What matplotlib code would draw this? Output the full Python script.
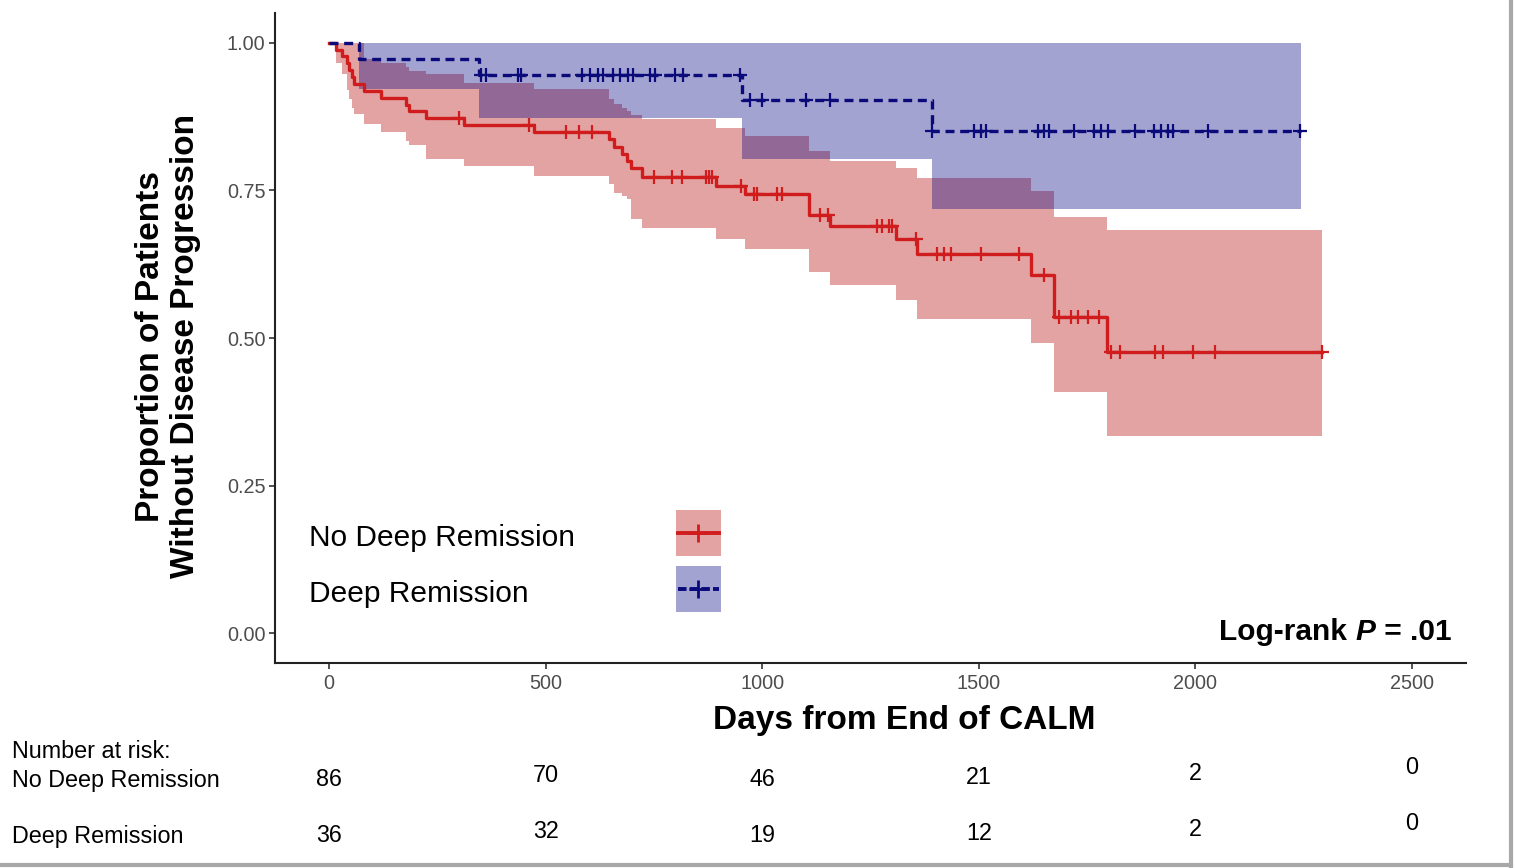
import matplotlib
matplotlib.use('Agg')
import matplotlib.pyplot as plt
import numpy as np
from matplotlib.patches import Rectangle
from matplotlib.lines import Line2D

plt.rcParams['font.family'] = ['Liberation Sans', 'DejaVu Sans']

# Kaplan-Meier estimates
# No Deep Remission
red_times = [0, 15, 30, 42, 47, 52, 57, 80, 119, 177, 185, 223, 312, 473, 647, 658, 677,
             688, 697, 723, 893, 960, 1107, 1157, 1308, 1358, 1620, 1673, 1796]
red_surv = [1.0, 0.988, 0.977, 0.965, 0.953, 0.942, 0.930, 0.918, 0.907, 0.895, 0.884, 0.872,
            0.860, 0.848, 0.836, 0.824, 0.812, 0.800, 0.788, 0.772, 0.758, 0.743, 0.709,
            0.690, 0.667, 0.642, 0.607, 0.536, 0.477]
red_upper = [1.0, 1.0, 1.0, 1.0, 1.0, 1.0, 1.0, 0.972, 0.965, 0.958, 0.952, 0.946, 0.932,
             0.921, 0.905, 0.896, 0.890, 0.884, 0.878, 0.870, 0.856, 0.842, 0.817, 0.800,
             0.787, 0.770, 0.749, 0.705, 0.682]
red_lower = [1.0, 0.966, 0.946, 0.920, 0.905, 0.890, 0.879, 0.862, 0.848, 0.834, 0.826, 0.803,
             0.791, 0.774, 0.760, 0.746, 0.740, 0.735, 0.701, 0.687, 0.667, 0.651, 0.611,
             0.590, 0.565, 0.533, 0.491, 0.408, 0.334]
red_end = 2292
red_censor = [300, 462, 547, 577, 608, 750, 792, 815, 870, 877, 885, 950, 980, 988, 1034, 1045,
              1134, 1153, 1265, 1277, 1292, 1300, 1354, 1404, 1419, 1435, 1505, 1593, 1651,
              1686, 1713, 1728, 1752, 1778, 1806, 1825, 1906, 1925, 1995, 2045, 2292]

# Deep Remission
blue_times = [0, 69, 347, 953, 1393]
blue_surv = [1.0, 0.972, 0.945, 0.903, 0.850]
blue_upper = [1.0, 1.0, 1.0, 1.0, 1.0]
blue_lower = [1.0, 0.921, 0.873, 0.803, 0.718]
blue_end = 2243
blue_censor = [351, 363, 436, 444, 583, 602, 621, 633, 656, 671, 691, 702, 741, 752, 799, 818,
               948, 972, 999, 1100, 1157, 1393, 1489, 1504, 1516, 1636, 1651, 1663, 1720, 1767,
               1782, 1798, 1860, 1905, 1921, 1937, 1948, 2029, 2241]

# number at risk table
risk_days = [0, 500, 1000, 1500, 2000, 2500]
risk_no_deep = [86, 70, 46, 21, 2, 0]
risk_deep = [36, 32, 19, 12, 2, 0]

RED_LINE = '#D01C1C'
RED_FILL = (0.70, 0.0, 0.0)
BLUE_LINE = '#0A0A7A'
BLUE_FILL = (0.0, 0.0, 0.5)
FILL_ALPHA = 0.36
DASH = (2.7, 1.7)

W, H = 1516, 868
fig = plt.figure(figsize=(W / 100, H / 100), dpi=100)


def px(x, y):
    return x / W, 1 - y / H


ax = fig.add_axes([275 / W, 1 - 663 / H, (1466 - 275) / W, (663 - 13) / H])


def step_value(times, vals, t):
    idx = np.searchsorted(times, t, side='right') - 1
    return np.asarray(vals)[idx]


def draw_group(times, surv, upper, lower, end, censor, line_color, fill_color, dashed):
    x = list(times) + [end]
    ax.fill_between(x, list(lower) + [lower[-1]], list(upper) + [upper[-1]], step='post',
                    color=fill_color, alpha=FILL_ALPHA, lw=0, zorder=1)
    kw = dict(color=line_color, lw=2.4, zorder=3)
    if dashed:
        kw['dashes'] = DASH
    ax.step(x, list(surv) + [surv[-1]], where='post', **kw)
    ax.plot(censor, step_value(times, surv, censor), ls='none', marker='+', ms=10,
            mew=1.6, color=line_color, zorder=4)


draw_group(red_times, red_surv, red_upper, red_lower, red_end, red_censor,
           RED_LINE, RED_FILL, False)
draw_group(blue_times, blue_surv, blue_upper, blue_lower, blue_end, blue_censor,
           BLUE_LINE, BLUE_FILL, True)

ax.set_xlim(-125, 2625)
ax.set_ylim(-0.05, 1.05)
ax.set_xticks([0, 500, 1000, 1500, 2000, 2500])
ax.set_yticks([0, 0.25, 0.5, 0.75, 1.0])
ax.set_yticklabels(['0.00', '0.25', '0.50', '0.75', '1.00'])
for s in ['top', 'right']:
    ax.spines[s].set_visible(False)
for s in ['left', 'bottom']:
    ax.spines[s].set_linewidth(1.5)
    ax.spines[s].set_color('#222222')
ax.tick_params(length=4, width=1.2, color='#333333', labelsize=14.3, labelcolor='#4D4D4D')
ax.tick_params(axis='x', pad=4)
ax.tick_params(axis='y', pad=3)

# axis titles
fig.text(*px(904, 720), 'Days from End of CALM', fontsize=24, fontweight='bold',
         ha='center', va='center')
fig.text(*px(168, 346), 'Proportion of Patients\nWithout Disease Progression', fontsize=24,
         fontweight='bold', rotation=90, ha='center', va='center', multialignment='center',
         linespacing=1.18)

# legend drawn by hand: labels on the left, keys on the right
legend_rows = [('No Deep Remission', 533, RED_LINE, RED_FILL, False),
               ('Deep Remission', 589, BLUE_LINE, BLUE_FILL, True)]
for label, yc, lc, fc, dashed in legend_rows:
    fig.text(*px(309, yc + 5), label, fontsize=21.5, ha='left', va='center')
    x0, y0 = px(676, yc + 23)
    fig.add_artist(Rectangle((x0, y0), 45 / W, 46 / H, transform=fig.transFigure,
                             facecolor=fc, alpha=FILL_ALPHA, lw=0))
    lx = [px(678, yc)[0], px(719, yc)[0]]
    ly = [px(678, yc)[1]] * 2
    line = Line2D(lx, ly, transform=fig.transFigure, color=lc, lw=2.8)
    if dashed:
        line.set_dashes((2.2, 0.8))
    fig.add_artist(line)
    fig.add_artist(Line2D([px(698, yc)[0]], [px(698, yc)[1]], transform=fig.transFigure,
                          ls='none', marker='+', ms=13, mew=2, color=lc))

# log-rank annotation, P in bold italic
t1 = fig.text(*px(1219, 640), 'Log-rank ', fontsize=21.5, fontweight='bold',
              ha='left', va='baseline')
t2 = fig.text(0, 0, 'P', fontsize=21.5, fontweight='bold', fontstyle='italic')
t3 = fig.text(0, 0, ' = .01', fontsize=21.5, fontweight='bold')
fig.canvas.draw()
r = fig.canvas.get_renderer()
bb1 = t1.get_window_extent(r)
t2.set_position(((bb1.x1) / W, 1 - 640 / H))
t2.set_va('baseline')
bb2 = t2.get_window_extent(r)
t3.set_position(((bb2.x1 + 1) / W, 1 - 640 / H))
t3.set_va('baseline')

# number at risk table (the numbers sit slightly unevenly in the original)
row_shift = [2, -1, 2, 0, -3, -10]
fig.text(*px(12, 752), 'Number at risk:', fontsize=16.8, ha='left', va='center')
fig.text(*px(12, 781), 'No Deep Remission', fontsize=16.8, ha='left', va='center')
fig.text(*px(12, 837), 'Deep Remission', fontsize=16.8, ha='left', va='center')
row_tf = matplotlib.transforms.blended_transform_factory(ax.transData, fig.transFigure)
for d, n1, n2, dy in zip(risk_days, risk_no_deep, risk_deep, row_shift):
    fig.text(d, 1 - (777 + dy) / H, str(n1), fontsize=16.8, ha='center', va='center',
             transform=row_tf)
    fig.text(d, 1 - (833 + dy) / H, str(n2), fontsize=16.8, ha='center', va='center',
             transform=row_tf)

# light frame at the right and bottom edge of the picture
fig.add_artist(Line2D([px(1511, 0)[0]] * 2, [px(0, 0)[1], px(0, 866)[1]],
                      transform=fig.transFigure, color='#A8A8A8', lw=3))
fig.add_artist(Line2D([0, px(1511, 0)[0]], [px(0, 865)[1]] * 2,
                      transform=fig.transFigure, color='#A8A8A8', lw=3))

fig.savefig('out.png', dpi=100)
